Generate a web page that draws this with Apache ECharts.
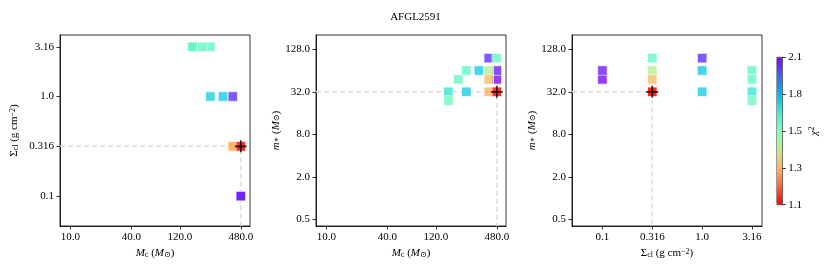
<!DOCTYPE html>
<html><head><meta charset="utf-8">
<script src="https://cdn.jsdelivr.net/npm/echarts@6/dist/echarts.min.js"></script>
<style>html,body{margin:0;padding:0;background:#fff}#c{width:831px;height:271px}</style>
</head><body><div id="c"></div>
<script>
// ---- data (one entry per model) ----
const mcVals    = [480, 480, 480, 400, 400, 400, 480, 240, 320, 400, 160, 160, 200, 240];
const sigmaVals = [0.1, 0.1, 0.316, 0.316, 0.316, 0.316, 0.316, 1.0, 1.0, 1.0, 3.16, 3.16, 3.16, 3.16];
const mstarVals = [64, 48, 32, 32, 48, 64, 96, 32, 64, 96, 32, 24, 48, 64];
const chi2Vals  = [2.05, 2.08, 1.10, 1.29, 1.31, 1.42, 1.57, 1.72, 1.73, 2.02, 1.66, 1.56, 1.57, 1.58];

// ---- tick labels ----
const mcTicks = [10, 40, 120, 480];
const mcTickLabels = ['10.0', '40.0', '120.0', '480.0'];
const sigmaTicks = [0.1, 0.316, 1.0, 3.16];
const sigmaTickLabels = ['0.1', '0.316', '1.0', '3.16'];
const mstarTicks = [0.5, 2, 8, 32, 128];
const mstarTickLabels = ['0.5', '2.0', '8.0', '32.0', '128.0'];
const cbTicks = [1.1, 1.293, 1.52, 1.787, 2.1];
const cbTickLabels = ['1.1', '1.3', '1.5', '1.8', '2.1'];
const chi2Min = 1.1, chi2Max = 2.1;

const F = 'Liberation Serif, DejaVu Serif, serif';
const L = Math.log10;

// axis limits (log10 space)
const mcLim = [0.898, 2.772];
const sigmaLimY = [-1.30, 0.618];
const sigmaLimX = [-1.305, 0.600];
const mstarLim = [-0.396, 2.31];

// reversed rainbow colormap (low chi2 = red)
const cmap = ['#ff0000','#ff6232','#ffb462','#bfec8e','#80ffb4','#40ecd4','#00b4eb','#4062fa','#8000ff'];

let bestIdx = 0;
chi2Vals.forEach((c, i) => { if (c < chi2Vals[bestIdx]) bestIdx = i; });
const order = chi2Vals.map((c, i) => i).sort((a, b) => chi2Vals[b] - chi2Vals[a]);

function fmt(ticks, labels) {
  return v => {
    for (let i = 0; i < ticks.length; i++) if (Math.abs(L(ticks[i]) - v) < 1e-6) return labels[i];
    return '';
  };
}
const rich = {
  n:   {fontFamily: F, fontSize: 11, color: '#000'},
  it:  {fontFamily: F, fontSize: 11, fontStyle: 'italic', color: '#000'},
  sub: {fontFamily: F, fontSize: 8, verticalAlign: 'bottom', color: '#000'},
  sup: {fontFamily: F, fontSize: 8, verticalAlign: 'top', color: '#000'}
};
function axis(idx, lim, ticks, labels, name, gap, isY) {
  const cv = ticks.map(L);
  return {
    type: 'value', gridIndex: idx, min: lim[0], max: lim[1],
    splitLine: {show: false},
    axisLine: {show: true, onZero: false, lineStyle: {color: '#000', width: 0.8}},
    axisTick: {show: true, inside: false, length: 3.5, customValues: cv, lineStyle: {color: '#000', width: 0.8}},
    axisLabel: {customValues: cv, formatter: fmt(ticks, labels), color: '#000', fontFamily: F, fontSize: 11, margin: 6},
    name: name, nameLocation: 'middle', nameGap: gap, nameRotate: isY ? 90 : 0,
    nameTextStyle: {rich: rich, fontFamily: F, fontSize: 11, color: '#000'}
  };
}
const mcName = '{it|M}{sub|c}{n| (}{it|M}{sub|⊙}{n|)}';
const sigName = '{n|Σ}{sub|cl}{n| (g cm}{sup|−2}{n|)}';
const msName = '{it|m}{sub|∗}{n| (}{it|M}{sub|⊙}{n|)}';

const grids = [
  {left: 60, top: 35, width: 190, height: 191},
  {left: 316, top: 35, width: 190, height: 191},
  {left: 572, top: 35, width: 190, height: 191},
  {left: 777, top: 57.3, width: 5.3, height: 147.4}
].map((g, i) => Object.assign({show: true, borderColor: '#000', borderWidth: 0.8, backgroundColor: 'transparent'}, g));

const xAxes = [
  axis(0, mcLim, mcTicks, mcTickLabels, mcName, 17, false),
  axis(1, mcLim, mcTicks, mcTickLabels, mcName, 17, false),
  axis(2, sigmaLimX, sigmaTicks, sigmaTickLabels, sigName, 17, false),
  {type: 'value', gridIndex: 3, show: false, min: 0, max: 1}
];
const cbAx = axis(3, [L(chi2Min), L(chi2Max)], cbTicks, cbTickLabels, '{it|χ}{sup|2}', 26, true);
cbAx.position = 'right';
cbAx.axisLine.show = false;
const yAxes = [
  axis(0, sigmaLimY, sigmaTicks, sigmaTickLabels, sigName, 40, true),
  axis(1, mstarLim, mstarTicks, mstarTickLabels, msName, 31, true),
  axis(2, mstarLim, mstarTicks, mstarTickLabels, msName, 31, true),
  cbAx
];

const panels = [
  {xs: mcVals, ys: sigmaVals, xl: mcLim, yl: sigmaLimY},
  {xs: mcVals, ys: mstarVals, xl: mcLim, yl: mstarLim},
  {xs: sigmaVals, ys: mstarVals, xl: sigmaLimX, yl: mstarLim}
];
const series = [];
const scatterIdx = [];
const plusPath = 'path://M0,4.3h10v1.4h-10z M4.3,0h1.4v10h-1.4z';
panels.forEach((p, k) => {
  const bx = L(p.xs[bestIdx]), by = L(p.ys[bestIdx]);
  series.push({
    type: 'line', xAxisIndex: k, yAxisIndex: k, z: 1, silent: true, symbol: 'none',
    data: [[p.xl[0], by], [bx, by], [bx, p.yl[0]]],
    lineStyle: {color: '#dcdcdc', width: 1.5, type: [5, 3]}
  });
  scatterIdx.push(series.length);
  series.push({
    type: 'scatter', xAxisIndex: k, yAxisIndex: k, z: 2, silent: true,
    symbol: 'rect', symbolSize: 9.5,
    itemStyle: {opacity: 0.8, borderColor: '#ffffff', borderWidth: 0.8},
    data: order.map(i => [L(p.xs[i]), L(p.ys[i]), L(chi2Vals[i])])
  });
  series.push({
    type: 'scatter', xAxisIndex: k, yAxisIndex: k, z: 3, silent: true,
    symbol: plusPath, symbolSize: 12, itemStyle: {color: '#000'},
    data: [[bx, by]]
  });
});

const chart = echarts.init(document.getElementById('c'), null, {renderer: 'canvas'});
chart.setOption({
  animation: false,
  backgroundColor: '#fff',
  title: {text: 'AFGL2591', left: 'center', top: 7, textStyle: {fontFamily: F, fontSize: 11, fontWeight: 'normal', color: '#000'}},
  grid: grids,
  xAxis: xAxes,
  yAxis: yAxes,
  visualMap: {
    type: 'continuous', min: L(chi2Min), max: L(chi2Max), dimension: 2,
    seriesIndex: scatterIdx, calculable: false, hoverLink: false,
    left: 777, top: 57.3, itemWidth: 5.3, itemHeight: 147.4, padding: 0,
    orient: 'vertical', inRange: {color: cmap}, z: 1
  },
  series: series
});
</script>
</body></html>
